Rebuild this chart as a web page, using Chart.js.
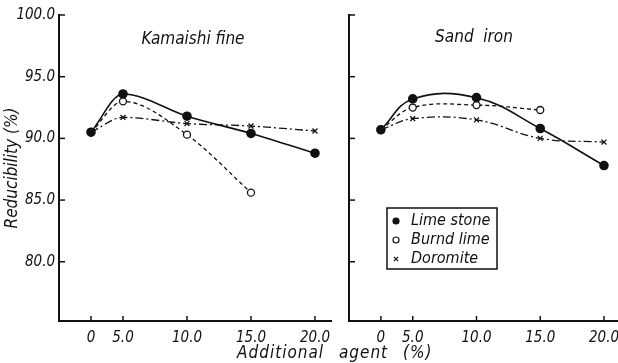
<!DOCTYPE html>
<html>
<head>
<meta charset="utf-8">
<script src="https://cdn.jsdelivr.net/npm/chart.js@4.4.1/dist/chart.umd.min.js"></script>
<style>
    body { margin: 0; background: #fff; width: 618px; height: 363px; position: relative; overflow: hidden; }
    #leftBox { position: absolute; left: 0; top: 0; width: 332px; height: 363px; }
    #rightBox { position: absolute; left: 332px; top: 0; width: 286px; height: 363px; }
    #xTitle {
        position: absolute; left: 237px; top: 342px; color: #111;
        font: italic 17px 'Liberation Sans Narrow', 'DejaVu Sans Condensed', sans-serif;
        letter-spacing: 1px; word-spacing: 9px; white-space: nowrap;
    }
</style>
</head>
<body>
<div id="leftBox"><canvas id="kamaishiChart"></canvas></div>
<div id="rightBox"><canvas id="sandChart"></canvas></div>
<div id="xTitle">Additional agent (%)</div>
<script>
// valores
const agentPct = [0, 5, 10, 15, 20];
const xTickValues = [0, 5, 10, 15, 20];
const xTickLabels = ['0', '5.0', '10.0', '15.0', '20.0'];
const yTickValues = [80, 85, 90, 95, 100];
const yTickLabels = ['80.0', '85.0', '90.0', '95.0', '100.0'];

const seriesNames = ['Lime stone', 'Burnd lime', 'Doromite'];

const kamaishiLime = [90.5, 93.6, 91.8, 90.4, 88.8];
const kamaishiBurnd = [90.5, 93.0, 90.3, 85.6];
const kamaishiDoro = [90.5, 91.7, 91.2, 91.0, 90.6];

const sandLime = [90.7, 93.2, 93.3, 90.8, 87.8];
const sandBurnd = [90.7, 92.5, 92.7, 92.3];
const sandDoro = [90.7, 91.6, 91.5, 90.0, 89.7];

const INK = '#111';
const FONT = "'Liberation Sans Narrow', 'DejaVu Sans Condensed', sans-serif";

// o eixo x da figura comprime o trecho 0-5 pela metade
const squeeze = v => (v == null ? v : (v < 5 ? 2.5 + v / 2 : v));
const unsqueeze = v => (v < 5 ? (v - 2.5) * 2 : v);

class SqueezedScale extends Chart.LinearScale {
    getPixelForValue(value) {
        return super.getPixelForValue(squeeze(value));
    }
    getValueForPixel(pixel) {
        return unsqueeze(super.getValueForPixel(pixel));
    }
}
SqueezedScale.id = 'squeezed';
SqueezedScale.defaults = Chart.LinearScale.defaults;
Chart.register(SqueezedScale);

const toPoints = values => values.map((v, i) => ({ x: agentPct[i], y: v }));

const inwardTicks = {
    id: 'inwardTicks',
    afterDraw(chart) {
        const { ctx, chartArea } = chart;
        const xs = chart.scales.x;
        const ys = chart.scales.y;
        ctx.save();
        ctx.strokeStyle = INK;
        ctx.lineWidth = 1.5;
        xs.ticks.forEach((t, i) => {
            const px = xs.getPixelForTick(i);
            ctx.beginPath();
            ctx.moveTo(px, chartArea.bottom);
            ctx.lineTo(px, chartArea.bottom - 5);
            ctx.stroke();
        });
        ys.ticks.forEach((t, i) => {
            const py = ys.getPixelForTick(i);
            ctx.beginPath();
            ctx.moveTo(chartArea.left, py);
            ctx.lineTo(chartArea.left + 6, py);
            ctx.stroke();
        });
        ctx.restore();
    }
};

const panelLabel = {
    id: 'panelLabel',
    afterDraw(chart, args, opts) {
        if (!opts.text) return;
        const { ctx, chartArea } = chart;
        ctx.save();
        ctx.fillStyle = INK;
        ctx.font = 'italic 17px ' + FONT;
        ctx.textAlign = 'center';
        ctx.textBaseline = 'middle';
        ctx.fillText(opts.text, chartArea.left + opts.dx, chartArea.top + opts.dy);
        ctx.restore();
    }
};

const boxLegend = {
    id: 'boxLegend',
    afterDraw(chart, args, opts) {
        if (!opts.show) return;
        const { ctx, chartArea } = chart;
        const left = chartArea.left + opts.dx;
        const top = chartArea.top + opts.dy;
        ctx.save();
        ctx.strokeStyle = INK;
        ctx.lineWidth = 1.5;
        ctx.strokeRect(left, top, opts.w, opts.h);
        ctx.font = 'italic 16px ' + FONT;
        ctx.textBaseline = 'middle';
        chart.data.datasets.forEach((ds, i) => {
            const cy = top + 13 + i * 19;
            ctx.fillStyle = ds.pointBackgroundColor;
            ctx.strokeStyle = INK;
            ctx.lineWidth = 1.2;
            Chart.helpers.drawPoint(ctx, { pointStyle: ds.pointStyle, radius: 3, borderWidth: 1.2, rotation: 0 }, left + 9, cy);
            ctx.fillStyle = INK;
            ctx.fillText(ds.label, left + 24, cy);
        });
        ctx.restore();
    }
};

function makeDatasets(lime, burnd, doro) {
    return [
        {
            label: seriesNames[0], data: toPoints(lime),
            borderColor: INK, borderWidth: 1.6,
            pointStyle: 'circle', pointRadius: 4, pointBackgroundColor: INK, pointBorderColor: INK
        },
        {
            label: seriesNames[1], data: toPoints(burnd),
            borderColor: INK, borderWidth: 1.3, borderDash: [4, 3],
            pointStyle: 'circle', pointRadius: 3.5, pointBackgroundColor: '#fff', pointBorderColor: INK, pointBorderWidth: 1.3
        },
        {
            label: seriesNames[2], data: toPoints(doro),
            borderColor: INK, borderWidth: 1.3, borderDash: [8, 3, 2, 3],
            pointStyle: 'crossRot', pointRadius: 3.5, pointBackgroundColor: INK, pointBorderColor: INK, pointBorderWidth: 1.3
        }
    ];
}

function makeOptions(xMax, showYLabels, yAxisWidth, curve, label, legend) {
    return {
        responsive: true,
        maintainAspectRatio: false,
        animation: false,
        layout: { autoPadding: false, padding: { top: 15, left: 0, right: 0, bottom: 0 } },
        elements: { line: curve },
        scales: {
            x: {
                type: 'squeezed',
                min: 0,
                max: xMax,
                afterBuildTicks: axis => { axis.ticks = xTickValues.map(v => ({ value: v })); },
                afterFit: axis => {
                    axis.height = 42;
                    axis.paddingLeft = 0;
                    axis.paddingRight = 0;
                },
                grid: { display: false, drawTicks: false },
                border: { display: true, width: 2, color: INK },
                ticks: {
                    color: INK, padding: 8, maxRotation: 0, autoSkip: false,
                    font: { family: FONT, size: 15, style: 'italic' },
                    callback: (v, i) => xTickLabels[i]
                }
            },
            y: {
                min: 75.2,
                max: 100,
                afterBuildTicks: axis => { axis.ticks = yTickValues.map(v => ({ value: v })); },
                afterFit: axis => { axis.width = yAxisWidth; },
                grid: { display: false, drawTicks: false },
                border: { display: true, width: 2, color: INK },
                ticks: {
                    color: INK, padding: 4,
                    font: { family: FONT, size: 15, style: 'italic' },
                    callback: (v, i) => (showYLabels ? yTickLabels[i] : '')
                },
                title: {
                    display: showYLabels,
                    text: 'Reducibility (%)',
                    color: INK,
                    font: { family: FONT, size: 17, style: 'italic' },
                    padding: { top: 2, bottom: 0 }
                }
            }
        },
        plugins: {
            legend: { display: false },
            tooltip: { enabled: false },
            panelLabel: label,
            boxLegend: legend
        }
    };
}

new Chart(document.getElementById('kamaishiChart'), {
    type: 'line',
    data: { datasets: makeDatasets(kamaishiLime, kamaishiBurnd, kamaishiDoro) },
    options: makeOptions(21.33, true, 59, { cubicInterpolationMode: 'monotone' },
        { text: 'Kamaishi fine', dx: 134, dy: 25 }, { show: false }),
    plugins: [inwardTicks, panelLabel, boxLegend]
});

new Chart(document.getElementById('sandChart'), {
    type: 'line',
    data: { datasets: makeDatasets(sandLime, sandBurnd, sandDoro) },
    options: makeOptions(21.1, false, 17, { tension: 0.4 },
        { text: 'Sand  iron', dx: 125, dy: 23 }, { show: true, dx: 38, dy: 193, w: 110, h: 61 }),
    plugins: [inwardTicks, panelLabel, boxLegend]
});
</script>
</body>
</html>
